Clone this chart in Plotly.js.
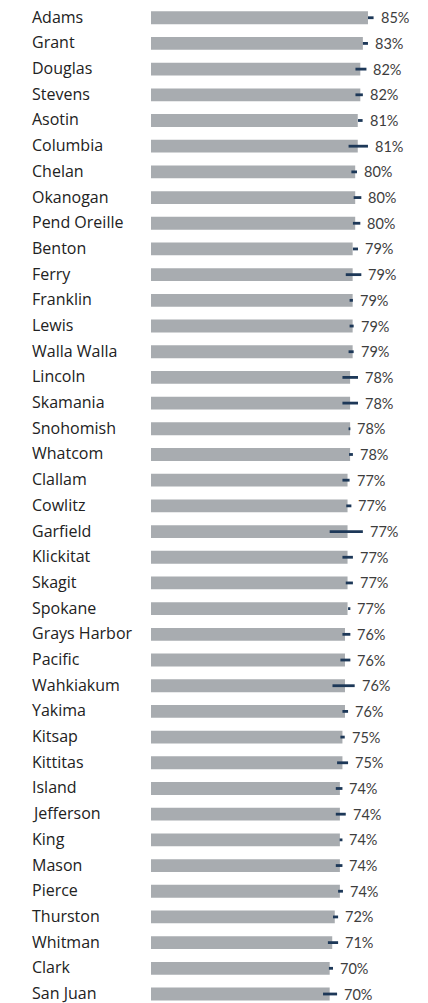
<!DOCTYPE html>
<html>
<head>
<meta charset="utf-8">
<script src="https://cdn.plot.ly/plotly-3.0.1.min.js"></script>
<style>html,body{margin:0;padding:0;background:#fff;}#chart{width:428px;height:1003px;}</style>
</head>
<body>
<div id="chart"></div>
<script>
const counties = ["Adams","Grant","Douglas","Stevens","Asotin","Columbia","Chelan","Okanogan","Pend Oreille","Benton","Ferry","Franklin","Lewis","Walla Walla","Lincoln","Skamania","Snohomish","Whatcom","Clallam","Cowlitz","Garfield","Klickitat","Skagit","Spokane","Grays Harbor","Pacific","Wahkiakum","Yakima","Kitsap","Kittitas","Island","Jefferson","King","Mason","Pierce","Thurston","Whitman","Clark","San Juan"];
const values = [85,83,82,82,81,81,80,80,80,79,79,79,79,79,78,78,78,78,77,77,77,77,77,77,76,76,76,76,75,75,74,74,74,74,74,72,71,70,70];
const ciLow  = [85.0,83.0,80.1,80.1,81.1,77.4,78.5,79.4,79.1,79.1,76.3,77.8,77.8,77.4,75.0,75.0,77.4,77.6,75.0,76.5,70.0,75.0,76.3,77.2,75.0,74.2,71.1,75.0,74.2,72.9,72.4,72.4,73.9,72.4,73.3,71.3,69.3,69.7,67.4];
const ciHigh = [87.2,85.0,84.4,83.0,82.9,85.0,80.7,82.4,82.0,81.1,82.4,79.1,79.4,79.4,81.1,81.1,78.1,79.1,77.8,78.5,83.0,79.1,79.1,78.1,78.1,78.1,79.8,77.2,75.9,77.2,75.0,76.3,75.0,75.0,75.2,73.3,73.3,71.3,72.9];

const ciMid = ciLow.map((lo, i) => (lo + ciHigh[i]) / 2);
const ciHalf = ciLow.map((lo, i) => (ciHigh[i] - lo) / 2);

const NAME_FONT = "'Open Sans', Lato, sans-serif";
const PCT_FONT = "Lato, 'Open Sans', sans-serif";

const bars = {
  type: 'bar', orientation: 'h',
  x: values, y: counties,
  width: 0.5,
  marker: {color: '#a8acb0', line: {width: 0}},
  hoverinfo: 'skip'
};
const ci = {
  type: 'scatter', mode: 'markers',
  x: ciMid, y: counties,
  marker: {size: 1, color: 'rgba(0,0,0,0)'},
  error_x: {type: 'data', array: ciHalf, symmetric: true, color: '#1d3858', thickness: 2.8, width: 0},
  hoverinfo: 'skip', cliponaxis: false
};

const annotations = [];
counties.forEach((c, i) => {
  annotations.push({
    xref: 'paper', yref: 'y', x: 0, y: c, xanchor: 'left', xshift: -119, yshift: 1,
    borderpad: 0, borderwidth: 0,
    text: c, showarrow: false, font: {family: NAME_FONT, size: 16, color: '#222222'}
  });
  annotations.push({
    xref: 'x', yref: 'y', x: Math.max(values[i], ciHigh[i]), y: c, xanchor: 'left', xshift: 5,
    text: values[i] + '%', showarrow: false, font: {family: PCT_FONT, size: 14.5, color: '#3d3d3d'}
  });
});

const layout = {
  width: 428, height: 1003,
  margin: {l: 151, r: 22, t: 0, b: 0},
  paper_bgcolor: '#ffffff', plot_bgcolor: '#ffffff',
  showlegend: false,
  bargap: 0.5,
  xaxis: {range: [0, 99.9], visible: false, fixedrange: true},
  yaxis: {type: 'category', range: [38.35, -0.69], autorange: false, showticklabels: false,
          showgrid: false, zeroline: false, showline: false, ticks: '', fixedrange: true},
  annotations: annotations,
  hovermode: false
};

Plotly.newPlot('chart', [bars, ci], layout, {displayModeBar: false, staticPlot: true});
</script>
</body>
</html>
